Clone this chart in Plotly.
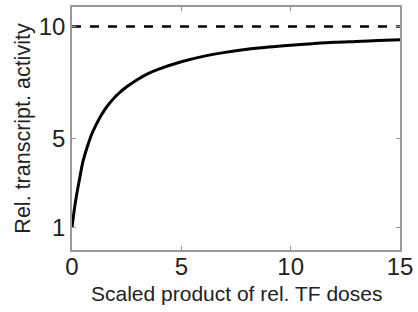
import plotly.graph_objects as go

dose = [0, 0.1, 0.2, 0.35, 0.5, 0.7, 0.9, 1.1, 1.35, 1.6, 2.0, 2.5, 3.0, 3.5, 4.0,
        5.0, 6.0, 7.0, 8.0, 9.0, 10.0, 11.0, 12.0, 13.0, 14.0, 15.0]
activity = [1.0, 1.77, 2.4, 3.2, 3.95, 4.62, 5.18, 5.6, 6.05, 6.42, 6.88, 7.3, 7.63,
            7.9, 8.1, 8.42, 8.66, 8.84, 8.98, 9.08, 9.16, 9.23, 9.29, 9.33, 9.37, 9.4]
max_x = [0, 15]
max_y = [10, 10]
x_ticks = [0, 5, 10, 15]
y_ticks = [1, 5, 10]

FONT = "Liberation Sans, Arial, sans-serif"

fig = go.Figure()
fig.add_trace(go.Scatter(x=max_x, y=max_y, mode="lines",
                         line=dict(color="black", width=2.5, dash="dash"),
                         showlegend=False))
fig.add_trace(go.Scatter(x=dose, y=activity, mode="lines",
                         line=dict(color="black", width=3, shape="spline", smoothing=1),
                         showlegend=False))

axis_common = dict(showline=True, linecolor="#999999", linewidth=1.5, mirror="ticks",
                   ticks="inside", ticklen=4, tickcolor="#999999", showgrid=False,
                   zeroline=False, tickfont=dict(family=FONT, size=24, color="#222"))

fig.update_layout(
    width=418, height=312,
    margin=dict(l=72, r=17, t=5, b=62),
    paper_bgcolor="white", plot_bgcolor="white",
    xaxis=dict(range=[0, 15], tickvals=x_ticks, ticktext=[str(v) for v in x_ticks],
               ticklabelstandoff=-6, **axis_common),
    yaxis=dict(range=[0, 10.87], tickvals=y_ticks, ticktext=[str(v) for v in y_ticks],
               title=dict(text="Rel. transcript. activity", standoff=2,
                          font=dict(family=FONT, size=21.5, color="#222")),
               **axis_common),
    annotations=[dict(text="Scaled product of rel. TF doses", xref="paper", yref="paper",
                      x=0.5, y=-0.18, xanchor="center", yanchor="middle", showarrow=False,
                      font=dict(family=FONT, size=21, color="#222"))],
)
fig.write_html("out.html", post_script="document.body.style.margin='0';",
               config={"displayModeBar": False})
